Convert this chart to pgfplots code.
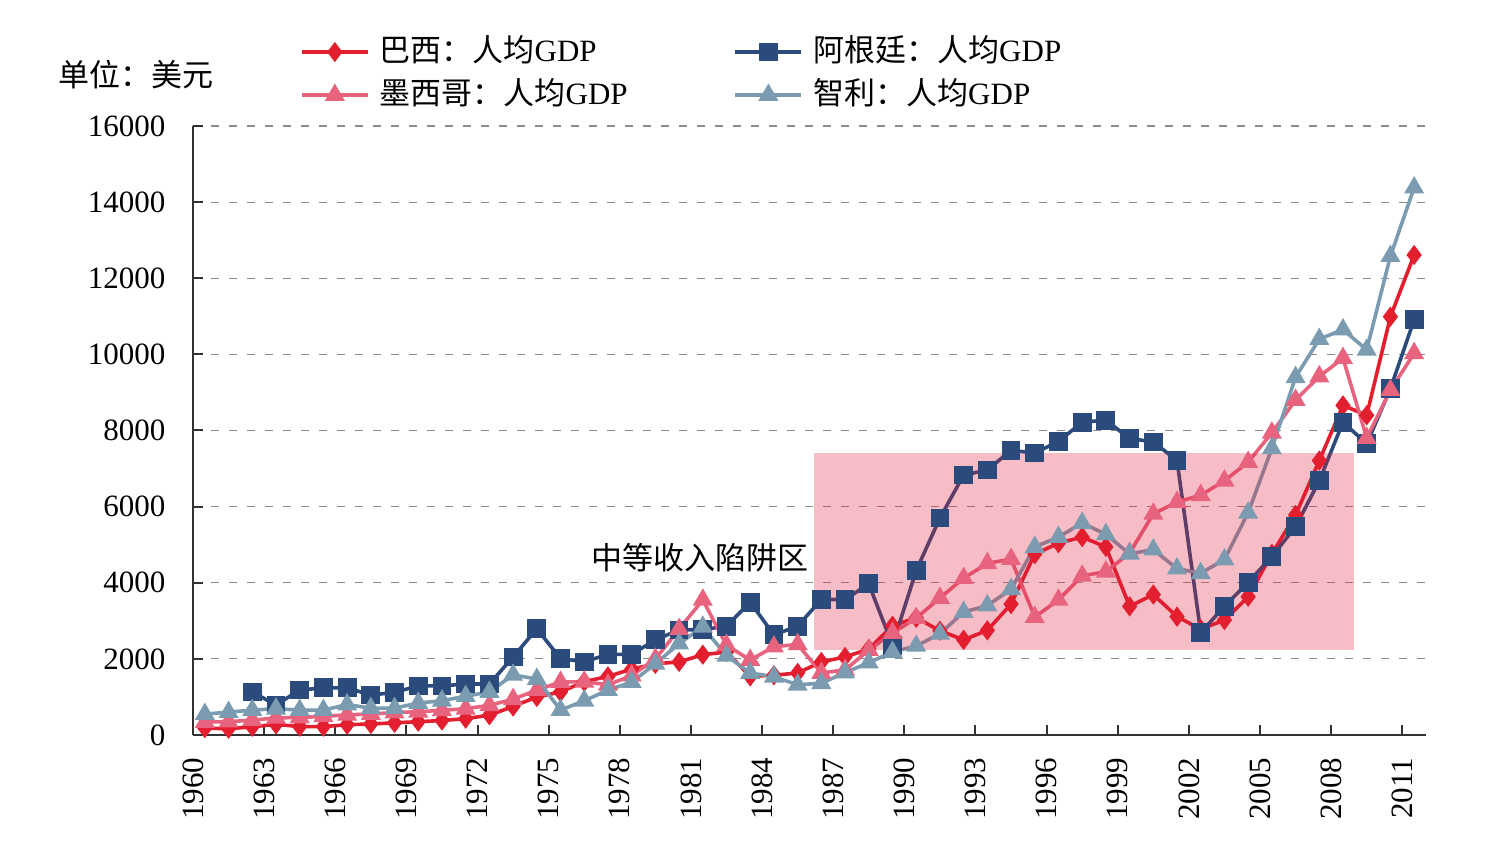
\documentclass[border=0pt]{standalone}
\usepackage{fontspec}
\setmainfont{Liberation Serif}
\newfontfamily\cjk{Noto Sans CJK SC}
\usepackage{pgfplots}
\pgfplotsset{compat=1.18}
\definecolor{cBR}{RGB}{227,30,46}
\definecolor{cMX}{RGB}{232,99,125}
\definecolor{cAR}{RGB}{42,75,124}
\definecolor{cCL}{RGB}{123,155,176}
\definecolor{cRect}{RGB}{224,29,57}
\definecolor{cAxis}{RGB}{50,50,50}

\begin{document}
\fontsize{15.5}{18}\selectfont
\begin{tikzpicture}
\useasboundingbox (-96.5pt,-58.5pt) rectangle (656pt,367.5pt);
\begin{axis}[
  scale only axis, width=616.5pt, height=304.5pt,
  at={(0pt,0pt)}, anchor=south west,
  xmin=1959.5, xmax=2011.5, ymin=0, ymax=16000,
  axis x line*=bottom, axis y line*=left,
  axis line style={-, color=cAxis, line width=1pt},
  tick align=inside, major tick length=5pt,
  tick style={color=cAxis, line width=1pt},
  xtick={1959.5,1962.5,1965.5,1968.5,1971.5,1974.5,1977.5,1980.5,1983.5,1986.5,1989.5,1992.5,1995.5,1998.5,2001.5,2004.5,2007.5,2010.5},
  xticklabels={1960,1963,1966,1969,1972,1975,1978,1981,1984,1987,1990,1993,1996,1999,2002,2005,2008,2011},
  xticklabel style={rotate=90, anchor=east, xshift=-6pt},
  ytick={0,2000,4000,6000,8000,10000,12000,14000,16000},
  scaled y ticks=false,
  yticklabel style={xshift=-8.5pt},
  /pgf/number format/assume math mode=true,
  /pgf/number format/1000 sep={},
  ymajorgrids,
  major grid style={color=gray!90, line width=0.6pt, dash pattern=on 4pt off 5pt},
  clip=false,
  legend columns=2,
  legend cell align=left,
  legend image code/.code={\draw[mark repeat=2,mark phase=2,#1] plot coordinates {(0pt,0pt) (16.5pt,0pt) (33pt,0pt)};},
  legend style={draw=none, fill=none, inner sep=0pt, outer sep=0pt,
    at={(axis description cs:0.0868,1.1461)}, anchor=north west,
    nodes={inner sep=0pt, text height=12pt, text depth=3pt},
    /tikz/every odd column/.append style={column sep=5pt},
    /tikz/column 2/.style={column sep=53pt},
    row sep=6.5pt},
]
% Brazil
\addplot[color=cBR, line width=1.8pt, mark=diamond*, mark size=3.6pt, mark options={solid}] coordinates {
(1960,180)(1961,165)(1962,215)(1963,280)(1964,220)(1965,220)(1966,270)(1967,290)(1968,320)(1969,350)
(1970,380)(1971,430)(1972,520)(1973,750)(1974,1000)(1975,1130)(1976,1400)(1977,1540)(1978,1730)(1979,1870)
(1980,1920)(1981,2110)(1982,2180)(1983,1540)(1984,1570)(1985,1630)(1986,1920)(1987,2050)(1988,2260)(1989,2870)
(1990,3080)(1991,2740)(1992,2500)(1993,2750)(1994,3440)(1995,4750)(1996,5040)(1997,5200)(1998,4940)(1999,3380)
(2000,3690)(2001,3110)(2002,2780)(2003,3020)(2004,3630)(2005,4760)(2006,5780)(2007,7210)(2008,8660)(2009,8400)
(2010,10990)(2011,12610)};
\addlegendentry{{\cjk 巴西：人均}GDP}
% Argentina
\addplot[color=cAR, line width=1.8pt, mark=square*, mark size=3.8pt, mark options={solid}] coordinates {
(1962,1130)(1963,790)(1964,1180)(1965,1240)(1966,1240)(1967,1050)(1968,1120)(1969,1290)
(1970,1290)(1971,1340)(1972,1340)(1973,2050)(1974,2790)(1975,2010)(1976,1920)(1977,2120)(1978,2120)(1979,2500)
(1980,2760)(1981,2770)(1982,2860)(1983,3490)(1984,2630)(1985,2860)(1986,3560)(1987,3560)(1988,3970)(1989,2360)
(1990,4320)(1991,5700)(1992,6830)(1993,6960)(1994,7480)(1995,7410)(1996,7710)(1997,8220)(1998,8270)(1999,7790)
(2000,7700)(2001,7210)(2002,2690)(2003,3380)(2004,4010)(2005,4690)(2006,5470)(2007,6680)(2008,8220)(2009,7650)
(2010,9100)(2011,10910)};
\addlegendentry{{\cjk 阿根廷：人均}GDP}
% Mexico
\addplot[color=cMX, line width=1.8pt, mark=triangle*, mark size=4pt, mark options={solid}] coordinates {
(1960,340)(1961,350)(1962,390)(1963,450)(1964,460)(1965,490)(1966,530)(1967,550)(1968,590)(1969,610)
(1970,650)(1971,690)(1972,780)(1973,940)(1974,1180)(1975,1390)(1976,1400)(1977,1320)(1978,1560)(1979,2000)
(1980,2780)(1981,3550)(1982,2360)(1983,1970)(1984,2320)(1985,2380)(1986,1630)(1987,1710)(1988,2230)(1989,2680)
(1990,3070)(1991,3600)(1992,4120)(1993,4510)(1994,4620)(1995,3100)(1996,3550)(1997,4180)(1998,4290)(1999,4780)
(2000,5810)(2001,6120)(2002,6300)(2003,6680)(2004,7170)(2005,7940)(2006,8800)(2007,9420)(2008,9900)(2009,7800)
(2010,9060)(2011,10030)};
\addlegendentry{{\cjk 墨西哥：人均}GDP}
% Chile
\addplot[color=cCL, line width=1.8pt, mark=triangle*, mark size=4pt, mark options={solid}] coordinates {
(1960,550)(1961,600)(1962,655)(1963,690)(1964,655)(1965,655)(1966,800)(1967,705)(1968,705)(1969,840)
(1970,900)(1971,1020)(1972,1130)(1973,1580)(1974,1470)(1975,655)(1976,900)(1977,1180)(1978,1390)(1979,1870)
(1980,2400)(1981,2840)(1982,2080)(1983,1630)(1984,1530)(1985,1320)(1986,1360)(1987,1640)(1988,1900)(1989,2180)
(1990,2340)(1991,2660)(1992,3230)(1993,3400)(1994,3830)(1995,4940)(1996,5200)(1997,5570)(1998,5270)(1999,4760)
(2000,4870)(2001,4370)(2002,4250)(2003,4610)(2004,5840)(2005,7530)(2006,9400)(2007,10400)(2008,10650)(2009,10120)
(2010,12580)(2011,14380)};
\addlegendentry{{\cjk 智利：人均}GDP}

\fill[cRect, fill opacity=0.29] (axis cs:1985.69,2230) rectangle (axis cs:2008.47,7410);
\node[font=\cjk] at (axis cs:1980.88,4650) {中等收入陷阱区};
\node[anchor=west, font=\cjk, inner sep=0pt] at (axis description cs:-0.1095,1.0837) {单位：美元};
\end{axis}
\end{tikzpicture}
\end{document}
